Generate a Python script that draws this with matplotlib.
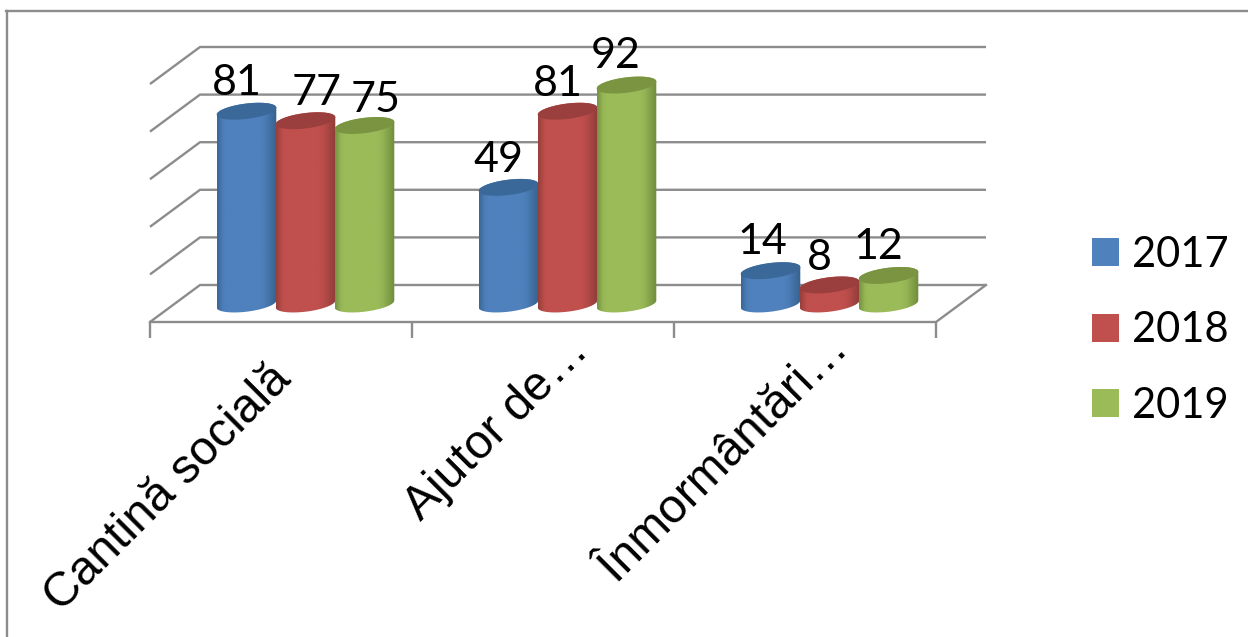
import numpy as np
import matplotlib
matplotlib.use("Agg")
import matplotlib.pyplot as plt
from matplotlib.colors import LinearSegmentedColormap
from matplotlib.lines import Line2D
from matplotlib.patches import Patch, Polygon

categories = ["Cantină socială", "Ajutor de…", "Înmormântări…"]
years = ["2017", "2018", "2019"]
values_2017 = [81, 49, 14]
values_2018 = [77, 81, 8]
values_2019 = [75, 92, 12]
grid_values = [0, 20, 40, 60, 80, 100]

series = [values_2017, values_2018, values_2019]
base_cols = ["#4F81BD", "#C0504D", "#9BBB59"]
edge_cols = ["#37618F", "#8E3C39", "#6F8B3C"]
top_cols = ["#3A6899", "#9A3F3D", "#7A9441"]

W, H = 1248, 637
PX_X, PX_Y = 262.0, 2.38   # pixels per category / per value
X0, Y0 = 150.0, 304.0      # pixel of data (0, 0)

fig = plt.figure(figsize=(W / 100, H / 100), dpi=100, facecolor="white")
ax = fig.add_axes([0, 0, 1, 1])
xlim = (-X0 / PX_X, (W - X0) / PX_X)
ylim = ((Y0 - H) / PX_Y, Y0 / PX_Y)
ax.axis("off")

GRID = "#8C8C8C"
LW = 1.7
dx = 50 / PX_X
y_back = (Y0 - 285) / PX_Y
y_front = (Y0 - 322) / PX_Y
n = len(categories)
for v in grid_values:
    ax.plot([0, dx, n + dx], [v + y_front, v + y_back, v + y_back],
            color=GRID, lw=LW, zorder=1, solid_capstyle="butt")
ax.plot([0, n, n + dx], [y_front, y_front, y_back], color=GRID, lw=LW, zorder=1)
for i in range(n + 1):
    ax.plot([i, i], [y_front, y_front - 16 / PX_Y], color=GRID, lw=LW, zorder=1,
            solid_capstyle="butt")

# cylinders
A = 29.8 / PX_X        # half width
B = 7.7 / PX_Y
SHEAR = 3.5 / PX_Y
OFF = 59.0 / PX_X
C0 = 155.5 / PX_X
t = np.linspace(0, 2 * np.pi, 121)
zo = 2
for j, vals in enumerate(series):
    cmap = LinearSegmentedColormap.from_list(
        "c", [edge_cols[j], base_cols[j], base_cols[j], edge_cols[j]],
    )
    for i, v in enumerate(vals):
        cx = i + C0 + (j - 1) * OFF
        ex = A * np.cos(t)
        ey = B * np.sin(t) + SHEAR * np.cos(t)
        # body outline: upper half at the top, lower half at the bottom
        upper = t <= np.pi
        lower = t >= np.pi
        bx = np.r_[cx + ex[upper], cx + ex[lower]]
        by = np.r_[v + ey[upper], ey[lower]]
        body = Polygon(np.c_[bx, by], closed=True, fc="none", ec="none",
                       transform=ax.transData)
        ax.add_patch(body)
        grad = np.interp(np.linspace(0, 1, 200), [0, .1, .45, .8, 1], [.05, .3, .5, .72, 1.0])
        im = ax.imshow(grad[None, :], cmap=cmap, vmin=0, vmax=1, aspect="auto",
                       extent=(cx - A, cx + A, 0 - B * 1.5, v + B * 1.5),
                       zorder=zo, interpolation="bilinear")
        im.set_clip_path(body)
        ax.add_patch(Polygon(np.c_[cx + ex, v + ey], closed=True, fc=top_cols[j],
                             ec="none", zorder=zo + 0.1))
    zo += 1

# data labels
label_dx = [[-10, -10, -8], [11, -10, -10], [11, -11, -10]]
label_dy = [[28, 27, 29], [28, 27, 27], [25, 29, 28]]
for j, vals in enumerate(series):
    for i, v in enumerate(vals):
        cx = i + C0 + (j - 1) * OFF
        ax.text(cx + label_dx[j][i] / PX_X, v + label_dy[j][i] / PX_Y, str(v),
                ha="center", va="center", fontsize=31, family="Lato", color="black", zorder=10)

# category labels
cat_anchor_x = [0.45, 1.585, 2.58]
cat_anchor_dy = [34, 6, 5]
for i, c in enumerate(categories):
    ax.text(cat_anchor_x[i], y_front - cat_anchor_dy[i] / PX_Y, c, rotation=45, rotation_mode="anchor",
            ha="right", va="top", fontsize=34.5, family="Liberation Sans", color="black")

ax.set_xlim(xlim)
ax.set_ylim(ylim)

handles = [Patch(facecolor=c, edgecolor="none", label=y) for c, y in zip(base_cols, years)]
ax.legend(handles=handles, loc="upper left",
          bbox_to_anchor=(1092 / W, 1 - 236 / H), bbox_transform=fig.transFigure,
          frameon=False, prop={"family": "Lato", "size": 30},
          handlelength=0.65, handleheight=0.65, handletextpad=0.3,
          labelspacing=0.9, borderpad=0, borderaxespad=0)

# chart-area frame
fig.add_artist(Line2D([6.5 / W, 6.5 / W], [0, 1 - 11 / H], color="#8C8C8C", lw=1.7))
fig.add_artist(Line2D([5.5 / W, 1], [1 - 11 / H, 1 - 11 / H], color="#8C8C8C", lw=1.7))

fig.savefig("out.png", dpi=100, facecolor="white")
